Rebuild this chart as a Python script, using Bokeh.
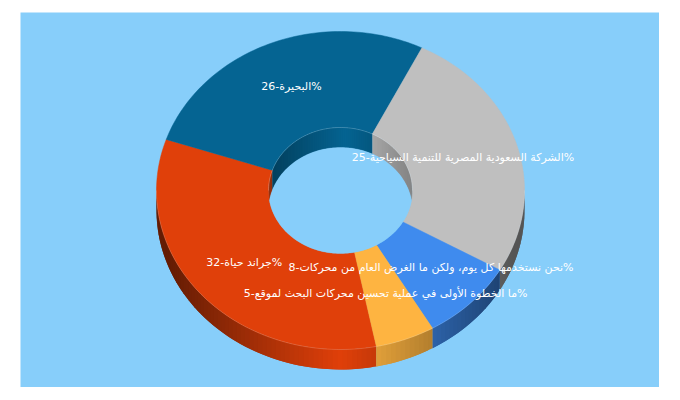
import numpy as np
from bokeh.plotting import figure
from bokeh.embed import file_html
from bokeh.resources import INLINE
from bokeh.core.properties import value

names = ["جراند حياة", "البحيرة", "الشركة السعودية المصرية للتنمية السياحية",
         "نحن نستخدمها كل يوم، ولكن ما الغرض العام من محركات",
         "ما الخطوة الأولى في عملية تحسين محركات البحث لموقع"]
values = [32, 26, 25, 8, 5]
colors = ["#E0400A", "#056492", "#BFBFBF", "#3F8BEE", "#FEB441"]
first_start_deg = 168.75

CX, CY, RX, RY, IX, IY, DEPTH = 340, 190, 184, 159, 72, 63, 20
BG = "#87CEFA"

def darken(c, k):
    r, g, b = int(c[1:3], 16), int(c[3:5], 16), int(c[5:7], 16)
    return "#%02x%02x%02x" % (int(r*k), int(g*k), int(b*k))

def pt(a, rx, ry, dy=0):
    return CX + rx*np.sin(a), CY - ry*np.cos(a) + dy

def shade(x, cx_bright, lo, hi, half):
    t = np.clip(1 - abs(x-cx_bright)/half, 0, 1)
    return lo + (hi-lo)*t

p = figure(width=659, height=387, output_backend="svg", toolbar_location=None,
           x_range=(20, 659), y_range=(387, 12), min_border_left=20, min_border_top=12,
           min_border_right=0, min_border_bottom=0, background_fill_color=BG,
           border_fill_color="white", outline_line_color=None)
p.axis.visible = False
p.grid.visible = False

total = sum(values)
spans = [v/total*2*np.pi for v in values]
starts = np.radians(first_start_deg) + np.concatenate([[0], np.cumsum(spans)[:-1]])

sx, sy, sc = [], [], []
for s, sp, c in zip(starts, spans, colors):
    n = max(int(sp/np.radians(1.5)), 2)
    edges = np.linspace(s, s+sp, n+1)
    step = edges[1]-edges[0]
    for a0, a1 in zip(edges[:-1], edges[1:]):
        m = (a0+a1)/2
        a2 = min(a1 + step, s+sp)   # overlap hides seams, stays inside the slice
        if np.cos(m) > 0:       # hole wall, far side
            x0, y0 = pt(a0, IX, IY); x1, y1 = pt(a2, IX, IY)
            k = shade(CX+IX*np.sin(m), CX+5, 0.66, 1.0, 72)
        else:                   # outer wall, near side
            x0, y0 = pt(a0, RX, RY); x1, y1 = pt(a2, RX, RY)
            k = shade(CX+RX*np.sin(m), CX, 0.45, 1.0, 172)
        sx.append([x0, x1, x1, x0]); sy.append([y0, y1, y1+DEPTH, y0+DEPTH])
        sc.append(darken(c, k))
p.patches(sx, sy, fill_color=sc, line_color=None)

# top faces
fx, fy = [], []
for s, sp in zip(starts, spans):
    a = np.linspace(s, s+sp, 80)
    ox, oy = pt(a, RX, RY); ix, iy = pt(a[::-1], IX, IY)
    fx.append(np.r_[ox, ix]); fy.append(np.r_[oy, iy])
p.patches(fx, fy, fill_color=colors, line_color=colors, line_width=0.5)

# faint light rims
a = np.linspace(-np.pi/2, np.pi/2, 100)
rx_, ry_ = pt(a, IX, IY)
p.line(rx_, ry_, line_color="white", line_alpha=0.2, line_width=1)
a = np.linspace(np.pi/2, 3*np.pi/2, 160)
rx_, ry_ = pt(a, RX, RY)
p.line(rx_, ry_, line_color="white", line_alpha=0.15, line_width=1)

# see-through part of the hole: intersection of rim and rim shifted down by the depth
lim = np.arccos(DEPTH/2/IY)
a = np.linspace(-lim, lim, 100)
ux, uy = pt(a, IX, IY, DEPTH)
lx, ly = pt(a+np.pi, IX, IY)
p.patch(np.r_[ux, lx], np.r_[uy, ly], fill_color=BG, line_color=BG, line_width=0.3)

mid = starts + np.array(spans)/2
lab_x = CX + (RX+IX)/2*np.sin(mid)
lab_y = CY - (RY+IY)/2*np.cos(mid)
labels = [f"{n}-{v}%" for n, v in zip(names, values)]
p.text(lab_x, lab_y, text=labels, text_color="white", text_align="center", text_baseline="middle",
       text_font=value("DejaVu Sans"), text_font_size="11px", y_offset=-1)

open("out.html", "w").write(file_html(p, INLINE))
